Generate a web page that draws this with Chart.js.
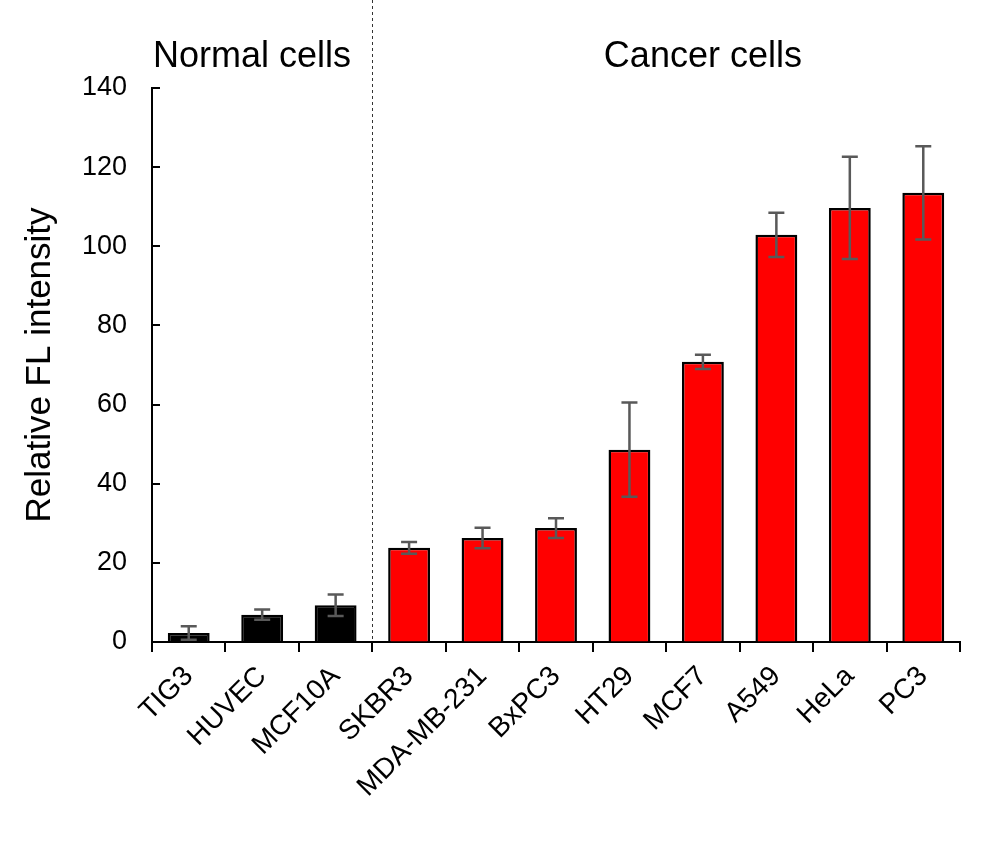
<!DOCTYPE html>
<html>
<head>
<meta charset="utf-8">
<script src="https://cdn.jsdelivr.net/npm/chart.js@4"></script>
<style>
  body { margin: 0; background: #fff; }
  #wrap { width: 984px; height: 849px; }
</style>
</head>
<body>
<div id="wrap"><canvas id="chart" width="984" height="849"></canvas></div>
<script>
// cell lines on the x axis
const cellLines = ["TIG3", "HUVEC", "MCF10A", "SKBR3", "MDA-MB-231", "BxPC3", "HT29", "MCF7", "A549", "HeLa", "PC3"];
// mean relative fluorescence
const meanValues = [2.3, 6.9, 9.3, 23.8, 26.3, 28.8, 48.6, 70.8, 102.9, 109.7, 113.5];
// error bar half-lengths
const errValues = [1.7, 1.3, 2.7, 1.5, 2.6, 2.5, 11.9, 1.8, 5.6, 12.9, 11.8];
// first 3 are normal cells, the rest cancer
const barColors = ["#000000", "#000000", "#000000", "#ff0000", "#ff0000", "#ff0000", "#ff0000", "#ff0000", "#ff0000", "#ff0000", "#ff0000"];
// group headings and where they sit (category index)
const groupLabels = ["Normal cells", "Cancer cells"];
const groupCenters = [0.86, 7.0];
const dividerAt = 2.5;

const font = "'Liberation Sans', Arial, sans-serif";

//draws error bars, inward y ticks, divider and group labels
const extras = {
  id: "extras",
  afterDatasetsDraw(chart) {
    const ctx = chart.ctx;
    const x = chart.scales.x;
    const y = chart.scales.y;
    const area = chart.chartArea;

    // inward ticks on the y axis
    ctx.save();
    ctx.strokeStyle = "#000";
    ctx.lineWidth = 2;
    y.ticks.forEach((t) => {
      const py = Math.round(y.getPixelForValue(t.value));
      ctx.beginPath();
      ctx.moveTo(area.left, py);
      ctx.lineTo(area.left + 8, py);
      ctx.stroke();
    });
    ctx.restore();

    // error bars
    ctx.save();
    ctx.strokeStyle = "#595959";
    ctx.lineWidth = 2.5;
    meanValues.forEach((v, i) => {
      const px = x.getPixelForValue(i);
      const top = y.getPixelForValue(v + errValues[i]);
      const bot = y.getPixelForValue(Math.max(0, v - errValues[i]));
      ctx.beginPath();
      ctx.moveTo(px, top);
      ctx.lineTo(px, bot);
      ctx.moveTo(px - 8, top);
      ctx.lineTo(px + 8, top);
      ctx.moveTo(px - 8, bot);
      ctx.lineTo(px + 8, bot);
      ctx.stroke();
    });
    ctx.restore();

    // dashed divider
    ctx.save();
    const dx = Math.round(x.getPixelForValue(dividerAt)) + 0.5;
    ctx.strokeStyle = "#333";
    ctx.lineWidth = 1;
    ctx.setLineDash([3, 3]);
    ctx.beginPath();
    ctx.moveTo(dx, 0);
    ctx.lineTo(dx, area.bottom);
    ctx.stroke();
    ctx.restore();

    // group labels
    ctx.save();
    ctx.fillStyle = "#000";
    ctx.font = "36px " + font;
    ctx.textAlign = "center";
    ctx.textBaseline = "alphabetic";
    groupLabels.forEach((lab, i) => {
      ctx.fillText(lab, x.getPixelForValue(groupCenters[i]), 67);
    });
    ctx.restore();
  },
};

new Chart(document.getElementById("chart"), {
  type: "bar",
  plugins: [extras],
  data: {
    labels: cellLines,
    datasets: [
      {
        data: meanValues,
        backgroundColor: barColors,
        borderColor: "#000",
        borderWidth: 2.5,
        barPercentage: 0.57,
        categoryPercentage: 1,
      },
    ],
  },
  options: {
    responsive: false,
    animation: false,
    layout: { padding: { top: 88, right: 24, left: 0, bottom: 0 } },
    plugins: {
      legend: { display: false },
      tooltip: { enabled: false },
    },
    scales: {
      x: {
        afterFit: (s) => { s.height = 207; },
        grid: {
          offset: true,
          drawOnChartArea: false,
          drawTicks: true,
          tickLength: 10,
          color: "#000",
          lineWidth: 2,
        },
        border: { display: true, color: "#000", width: 2 },
        ticks: {
          color: "#000",
          font: { size: 28, family: font },
          maxRotation: 45,
          minRotation: 45,
          padding: 8,
          autoSkip: false,
        },
      },
      y: {
        min: 0,
        max: 140,
        afterFit: (s) => { s.width = 152; },
        grid: { display: true, drawOnChartArea: false, drawTicks: false },
        border: { display: true, color: "#000", width: 2 },
        ticks: {
          stepSize: 20,
          color: "#000",
          font: { size: 27, family: font },
          padding: 25,
        },
        title: {
          display: true,
          text: "Relative FL intensity",
          color: "#000",
          font: { size: 35, family: font },
          padding: { top: 19, bottom: 0 },
        },
      },
    },
  },
});
</script>
</body>
</html>
